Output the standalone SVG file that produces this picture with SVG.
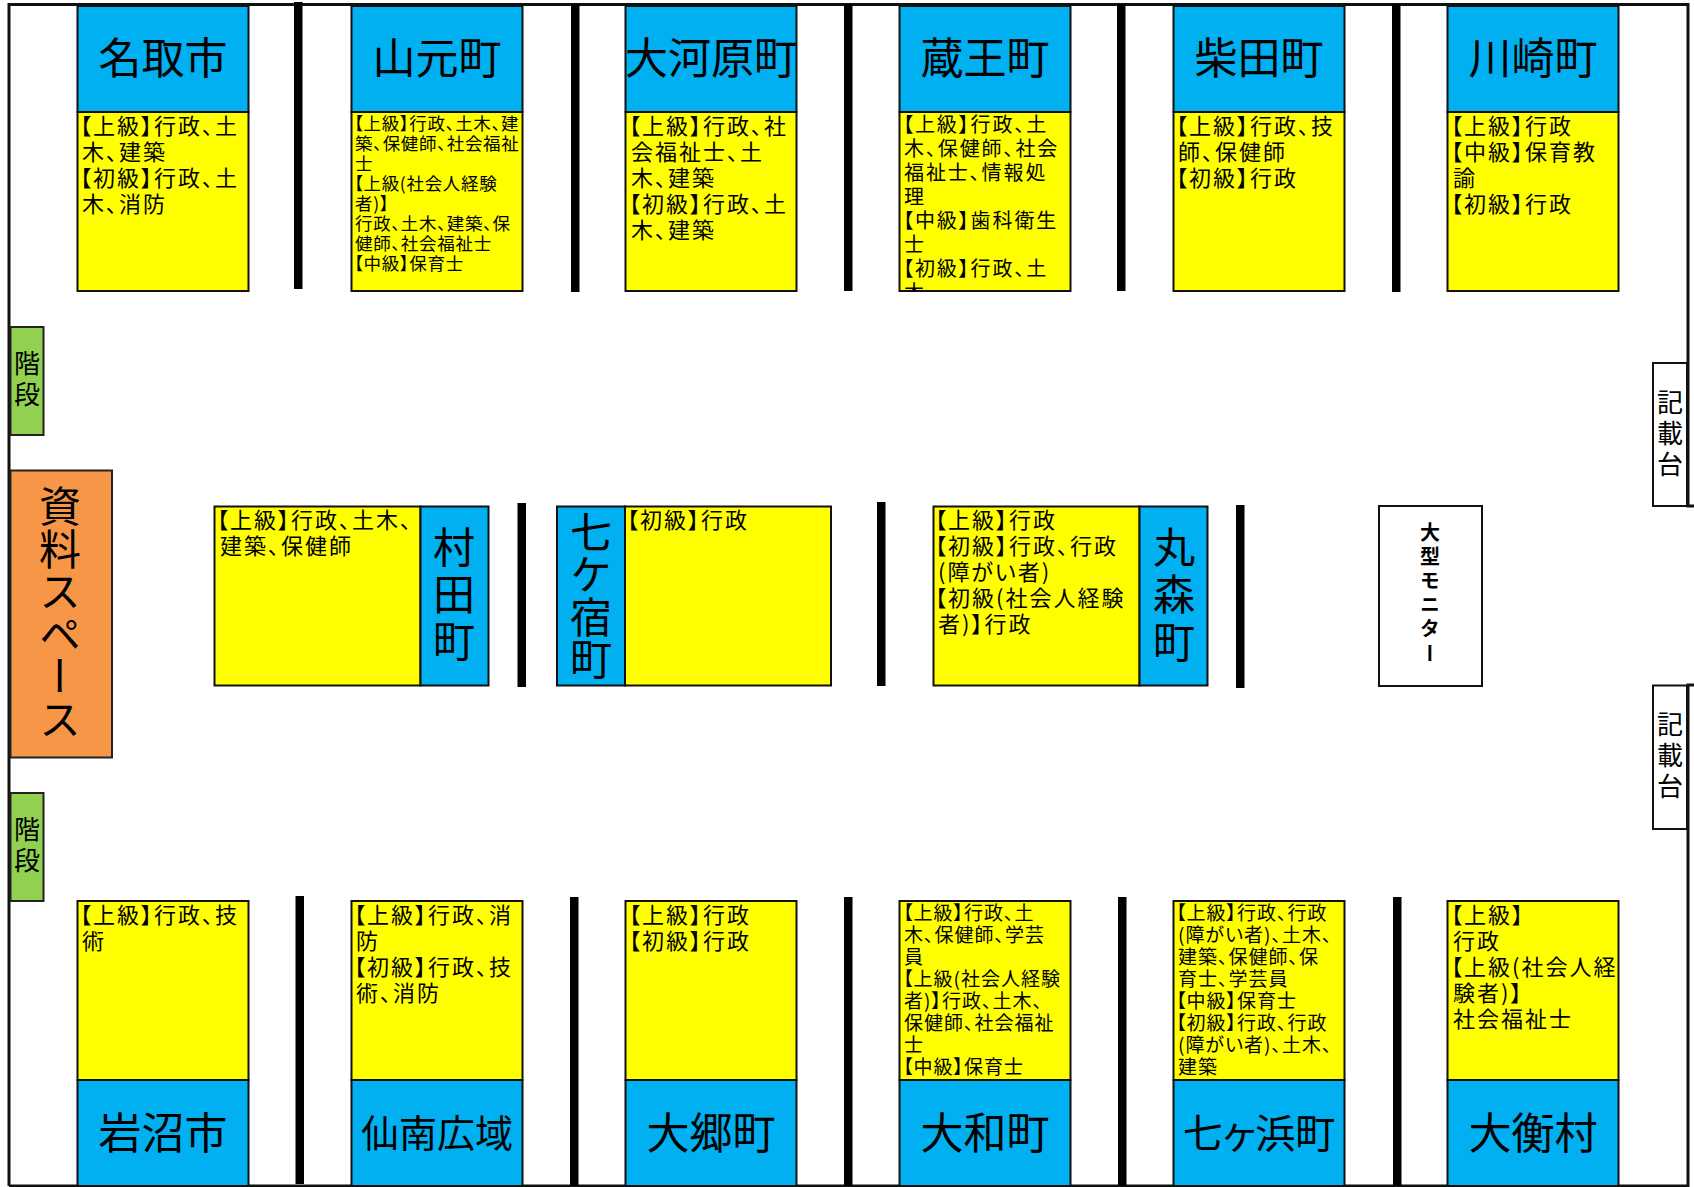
<svg xmlns="http://www.w3.org/2000/svg" width="1694" height="1187" viewBox="0 0 1694 1187">
<style>
text{font-family:"Noto Sans CJK JP","Noto Sans",sans-serif;fill:#000}
.b{fill:#00B0F0;stroke:#111;stroke-width:2}
.y{fill:#FF0;stroke:#111;stroke-width:2}
.w{fill:#fff;stroke:#111;stroke-width:2}
.o{fill:#F79646;stroke:#222;stroke-width:2}
.g{fill:#92D050;stroke:#222;stroke-width:2}
.h{font-size:43px;text-anchor:middle}
.t{font-size:22px;font-feature-settings:"palt";letter-spacing:2px}
.s{font-size:17.500px;font-feature-settings:"palt";letter-spacing:.7px}
.m{font-size:20px;font-feature-settings:"palt";letter-spacing:1.900px}
.n{font-size:19px;font-feature-settings:"palt";letter-spacing:1px}
.v{writing-mode:vertical-rl;font-size:42px}
.vs{writing-mode:vertical-rl;font-size:26px;letter-spacing:5px}
.vm{writing-mode:vertical-rl;font-size:20px;font-weight:700;letter-spacing:4.200px}
.bar{fill:#000}
.wall{stroke:#111;fill:none;stroke-width:3}
</style>
<defs><clipPath id="zaoClip"><rect x="899" y="113" width="172" height="178"/></clipPath></defs>
<rect width="1694" height="1187" fill="#fff"/>
<g id="walls">
<path class="wall" d="M9 1186V4.500H1688V506H1694M1694 685H1688V1186H9"/>
<rect class="bar" x="294" y="2" width="8.500" height="287"/><rect class="bar" x="571" y="4" width="8.500" height="288"/><rect class="bar" x="844" y="4" width="8.500" height="287"/><rect class="bar" x="1117" y="4" width="8.500" height="287"/><rect class="bar" x="1392" y="4" width="8.500" height="288"/>
<rect class="bar" x="517.500" y="503" width="8.500" height="184"/><rect class="bar" x="877" y="502" width="8.500" height="184"/><rect class="bar" x="1236" y="505" width="8.500" height="183"/>
<rect class="bar" x="295.500" y="896" width="8.500" height="288"/><rect class="bar" x="570" y="897" width="8.500" height="289"/><rect class="bar" x="844" y="897" width="8.500" height="289"/><rect class="bar" x="1118" y="897" width="8.500" height="289"/><rect class="bar" x="1393" y="897" width="8.500" height="289"/>
</g>
<g id="natori"><rect class="b" x="77.500" y="6" width="171" height="106"/><rect class="y" x="77.500" y="112" width="171" height="179"/><text class="h" x="163" y="73.500">名取市</text><text class="t"><tspan x="80" y="134">【上級】行政、土</tspan><tspan x="82" y="160">木、建築</tspan><tspan x="80" y="186">【初級】行政、土</tspan><tspan x="82" y="212">木、消防</tspan></text></g>
<g id="yamamoto"><rect class="b" x="351.500" y="6" width="171" height="106"/><rect class="y" x="351.500" y="112" width="171" height="179"/><text class="h" x="437" y="73.500">山元町</text><text class="s"><tspan x="354" y="130">【上級】行政、土木、建</tspan><tspan x="355" y="150">築、保健師、社会福祉</tspan><tspan x="355" y="170">士</tspan><tspan x="354" y="190">【上級(社会人経験</tspan><tspan x="355" y="210">者)】</tspan><tspan x="355" y="230">行政、土木、建築、保</tspan><tspan x="355" y="250">健師、社会福祉士</tspan><tspan x="354" y="270">【中級】保育士</tspan></text></g>
<g id="okawara"><rect class="b" x="625.500" y="6" width="171" height="106"/><rect class="y" x="625.500" y="112" width="171" height="179"/><text class="h" x="711" y="73.500">大河原町</text><text class="t"><tspan x="629" y="134">【上級】行政、社</tspan><tspan x="631" y="160">会福祉士、土</tspan><tspan x="631" y="186">木、建築</tspan><tspan x="629" y="212">【初級】行政、土</tspan><tspan x="631" y="238">木、建築</tspan></text></g>
<g id="zao"><rect class="b" x="899.500" y="6" width="171" height="106"/><rect class="y" x="899.500" y="112" width="171" height="179"/><text class="h" x="985" y="73.500">蔵王町</text><text class="m" clip-path="url(#zaoClip)"><tspan x="903" y="132">【上級】行政、土</tspan><tspan x="904" y="156">木、保健師、社会</tspan><tspan x="904" y="180">福祉士、情報処</tspan><tspan x="904" y="204">理</tspan><tspan x="903" y="228">【中級】歯科衛生</tspan><tspan x="904" y="252">士</tspan><tspan x="903" y="276">【初級】行政、土</tspan><tspan x="904" y="300">木</tspan></text></g>
<g id="shibata"><rect class="b" x="1173.500" y="6" width="171" height="106"/><rect class="y" x="1173.500" y="112" width="171" height="179"/><text class="h" x="1259" y="73.500">柴田町</text><text class="t"><tspan x="1176" y="134">【上級】行政、技</tspan><tspan x="1178" y="160">師、保健師</tspan><tspan x="1176" y="186">【初級】行政</tspan></text></g>
<g id="kawasaki"><rect class="b" x="1447.500" y="6" width="171" height="106"/><rect class="y" x="1447.500" y="112" width="171" height="179"/><text class="h" x="1533" y="73.500">川崎町</text><text class="t"><tspan x="1451" y="134">【上級】行政</tspan><tspan x="1451" y="160">【中級】保育教</tspan><tspan x="1453" y="186">諭</tspan><tspan x="1451" y="212">【初級】行政</tspan></text></g>
<g id="stairs-top"><rect class="g" x="10.500" y="327" width="33" height="108"/><text class="vs" x="27" y="350">階段</text></g>
<g id="stairs-bottom"><rect class="g" x="10.500" y="793" width="33" height="108"/><text class="vs" x="27" y="816">階段</text></g>
<g id="shiryo"><rect class="o" x="10.500" y="470.500" width="101.500" height="287"/><text class="v" x="60" y="485" style="letter-spacing:.6px">資料スペース</text></g>
<g id="murata"><rect class="y" x="214.500" y="506.500" width="206" height="179"/><rect class="b" x="420.500" y="506.500" width="68" height="179"/><text class="t"><tspan x="217" y="528">【上級】行政、土木、</tspan><tspan x="220" y="554">建築、保健師</tspan></text><text class="v" x="454" y="526" style="letter-spacing:5px">村田町</text></g>
<g id="shichikashuku"><rect class="b" x="557" y="506.500" width="68" height="179"/><rect class="y" x="625" y="506.500" width="206" height="179"/><text class="t"><tspan x="627" y="528">【初級】行政</tspan></text><text class="v" x="591" y="511" style="letter-spacing:.3px">七ケ宿町</text></g>
<g id="marumori"><rect class="y" x="933.500" y="506.500" width="206" height="179"/><rect class="b" x="1139.500" y="506.500" width="68" height="179"/><text class="t"><tspan x="935" y="528">【上級】行政</tspan><tspan x="935" y="554">【初級】行政、行政</tspan><tspan x="938" y="580">(障がい者)</tspan><tspan x="935" y="606">【初級(社会人経験</tspan><tspan x="938" y="632">者)】行政</tspan></text><text class="v" x="1174" y="526" style="letter-spacing:5.500px">丸森町</text></g>
<g id="monitor"><rect class="w" x="1379" y="506" width="103" height="180"/><text class="vm" x="1430" y="522">大型モニター</text></g>
<g id="desk-top"><rect class="w" x="1653" y="363" width="34" height="143"/><text class="vs" x="1670" y="389">記載台</text></g>
<g id="desk-bottom"><rect class="w" x="1653" y="685.500" width="34" height="143.500"/><text class="vs" x="1670" y="711">記載台</text></g>
<g id="iwanuma"><rect class="y" x="77.500" y="901" width="171" height="179"/><rect class="b" x="77.500" y="1080" width="171" height="106"/><text class="h" x="163" y="1149">岩沼市</text><text class="t"><tspan x="80" y="923">【上級】行政、技</tspan><tspan x="82" y="949">術</tspan></text></g>
<g id="sennan"><rect class="y" x="351.500" y="901" width="171" height="179"/><rect class="b" x="351.500" y="1080" width="171" height="106"/><text class="h" x="437" y="1147" style="font-size:38px">仙南広域</text><text class="t"><tspan x="354" y="923">【上級】行政、消</tspan><tspan x="356" y="949">防</tspan><tspan x="354" y="975">【初級】行政、技</tspan><tspan x="356" y="1001">術、消防</tspan></text></g>
<g id="osato"><rect class="y" x="625.500" y="901" width="171" height="179"/><rect class="b" x="625.500" y="1080" width="171" height="106"/><text class="h" x="711" y="1149">大郷町</text><text class="t"><tspan x="629" y="923">【上級】行政</tspan><tspan x="629" y="949">【初級】行政</tspan></text></g>
<g id="taiwa"><rect class="y" x="899.500" y="901" width="171" height="179"/><rect class="b" x="899.500" y="1080" width="171" height="106"/><text class="h" x="985" y="1149">大和町</text><text class="n"><tspan x="903" y="920">【上級】行政、土</tspan><tspan x="904" y="942">木、保健師、学芸</tspan><tspan x="904" y="964">員</tspan><tspan x="903" y="986">【上級(社会人経験</tspan><tspan x="904" y="1008">者)】行政、土木、</tspan><tspan x="904" y="1030">保健師、社会福祉</tspan><tspan x="904" y="1052">士</tspan><tspan x="903" y="1074">【中級】保育士</tspan></text></g>
<g id="shichigahama"><rect class="y" x="1173.500" y="901" width="171" height="179"/><rect class="b" x="1173.500" y="1080" width="171" height="106"/><text class="h" x="1259" y="1148" style="font-feature-settings:'palt';font-size:40px">七ヶ浜町</text><text class="n"><tspan x="1176" y="920">【上級】行政、行政</tspan><tspan x="1178" y="942">(障がい者)、土木、</tspan><tspan x="1178" y="964">建築、保健師、保</tspan><tspan x="1178" y="986">育士、学芸員</tspan><tspan x="1176" y="1008">【中級】保育士</tspan><tspan x="1176" y="1030">【初級】行政、行政</tspan><tspan x="1178" y="1052">(障がい者)、土木、</tspan><tspan x="1178" y="1074">建築</tspan></text></g>
<g id="ohira"><rect class="y" x="1447.500" y="901" width="171" height="179"/><rect class="b" x="1447.500" y="1080" width="171" height="106"/><text class="h" x="1533" y="1149">大衡村</text><text class="t"><tspan x="1451" y="923">【上級】</tspan><tspan x="1453" y="949">行政</tspan><tspan x="1451" y="975">【上級(社会人経</tspan><tspan x="1453" y="1001">験者)】</tspan><tspan x="1453" y="1027">社会福祉士</tspan></text></g>
</svg>
